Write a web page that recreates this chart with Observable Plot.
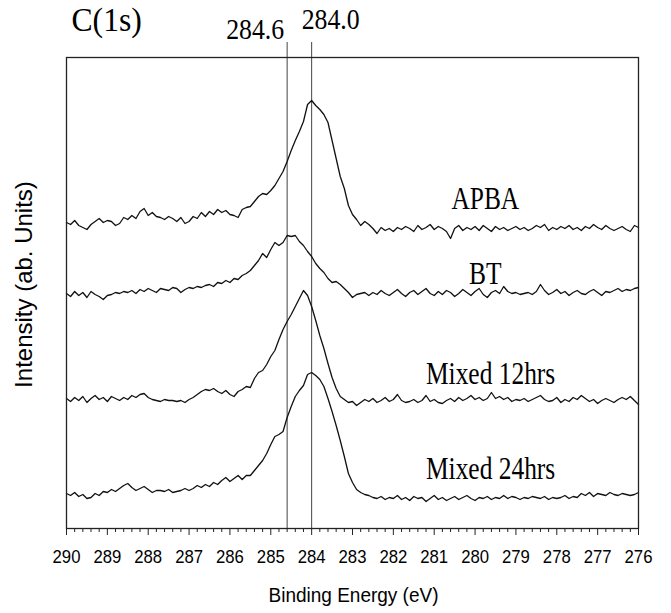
<!DOCTYPE html>
<html>
<head>
<meta charset="utf-8">
<script src="https://cdn.jsdelivr.net/npm/d3@7"></script>
<script src="https://cdn.jsdelivr.net/npm/@observablehq/plot@0.6"></script>
<style>
  html, body { margin: 0; padding: 0; background: #fff; }
  #chart svg { display: block; background: #fff; color: #000; }
</style>
</head>
<body>
<div id="chart"></div>
<script>
// Binding-energy grid (eV), 290 → 276 in 0.1 eV steps
const energyStart = 290;
const energyStep = 0.1;

// Intensities (arbitrary units)
const apba = [
  306,304,308,303,301,299,304,307,310,306,
  308,307,303,305,311,309,313,310,317,320,
  313,316,312,311,309,312,310,307,311,305,
  307,312,310,316,312,317,314,319,316,318,
  314,313,311,319,321,322,327,332,335,334,
  338,343,350,357,367,378,388,397,407,424,
  428,423,419,414,406,388,370,352,340,323,
  314,309,303,307,304,300,295,301,298,300,
  297,301,299,302,300,297,303,299,301,304,
  299,302,300,297,290,300,303,298,301,299,
  302,298,303,300,297,302,299,301,298,300,
  302,299,301,298,300,303,301,304,298,301,
  299,302,300,303,299,301,298,302,300,304,
  301,299,303,300,298,300,302,299,297,303,
  301
];
const bt = [
  235,232,237,233,236,231,237,234,232,229,
  233,234,236,235,237,236,238,235,239,237,
  240,238,236,240,239,238,241,240,236,239,
  241,240,242,241,243,244,242,246,245,248,
  246,250,249,253,255,258,263,268,275,271,
  279,286,283,286,293,292,293,287,283,277,
  272,265,260,256,250,246,247,244,240,236,
  231,234,235,236,233,236,234,238,235,233,
  236,239,235,232,236,238,234,237,240,235,
  233,237,234,238,236,232,235,239,236,233,
  237,240,234,231,236,238,235,242,237,235,
  236,234,235,236,234,237,244,238,234,236,
  239,235,237,233,236,238,235,234,237,239,
  236,233,237,236,238,240,237,239,238,240,
  241
];
const mixed12 = [
  130,127,131,128,132,126,130,133,129,131,
  127,132,130,128,131,129,133,131,134,135,
  131,129,128,127,129,128,128,127,128,126,
  129,131,134,137,139,138,140,137,135,138,
  134,132,137,139,142,141,150,156,158,164,
  172,178,189,199,207,214,222,230,238,233,
  222,208,193,180,165,151,140,132,129,126,
  127,123,126,129,127,130,126,128,131,127,
  129,134,128,126,127,129,126,128,133,127,
  129,126,125,128,130,127,131,128,130,133,
  129,131,128,130,136,130,132,129,131,127,
  129,128,130,127,129,131,133,129,127,128,
  131,126,129,127,131,129,133,130,127,129,
  125,128,130,128,126,129,131,129,132,128,
  124
];
const mixed24 = [
  35,33,36,32,34,30,31,35,33,37,
  36,39,37,40,43,45,41,38,40,42,
  39,36,38,38,37,39,36,37,38,40,
  38,40,43,41,44,42,46,44,48,51,
  47,50,53,49,53,53,58,63,68,75,
  84,92,94,97,111,122,132,138,143,154,
  156,153,149,142,130,117,103,88,72,55,
  46,39,36,34,33,31,30,32,29,31,
  30,33,29,31,28,32,30,31,27,30,
  33,29,31,28,30,32,29,31,33,30,
  28,31,30,32,29,31,30,33,30,32,
  31,29,31,30,32,31,30,32,29,31,
  30,31,33,30,32,31,35,33,36,32,
  35,34,33,36,34,33,35,34,33,34,
  36
];

const seriesNames = ["APBA", "BT", "Mixed 12hrs", "Mixed 24hrs"];
const labelEnergy = [279.75, 279.75, 279.62, 279.62];
const labelIntensity = [329, 254, 154, 59];

// Reference lines
const refEnergies = [284.6, 284.0];
const refLabels = ["284.6", "284.0"];
const refLabelIntensity = [499, 509];
const refTop = 486;

// Axis ticks
const xTicks = [290, 289, 288, 287, 286, 285, 284, 283, 282, 281, 280, 279, 278, 277, 276];
const xMinorTicks = d3.range(276, 290, 0.2).map(v => +v.toFixed(1)).filter(v => !Number.isInteger(v));

const titleText = "C(1s)";
const xLabel = "Binding Energy (eV)";
const yLabel = "Intensity (ab. Units)";

// Build tables
const energies = apba.map((_, i) => +(energyStart - i * energyStep).toFixed(1));
const rows = [];
[apba, bt, mixed12, mixed24].forEach((arr, k) =>
  arr.forEach((v, i) => rows.push({energy: energies[i], intensity: v, series: seriesNames[k]}))
);
const labels = seriesNames.map((s, i) => ({text: s, energy: labelEnergy[i], intensity: labelIntensity[i]}));
const refs = refEnergies.map((e, i) => ({energy: e, text: refLabels[i], ly: refLabelIntensity[i]}));

const serif = "Liberation Serif, 'Times New Roman', Times, serif";
const sans = "Liberation Sans, Arial, Helvetica, sans-serif";

const svg = Plot.plot({
  width: 671,
  height: 613,
  marginLeft: 66,
  marginRight: 33,
  marginTop: 57,
  marginBottom: 85,
  style: {background: "#fff", color: "#000"},
  x: {domain: [290, 276], axis: null},
  y: {domain: [0, 471], axis: null},
  marks: [
    Plot.ruleX(refs, {x: "energy", y1: 0, y2: refTop, stroke: "#444", strokeWidth: 1}),
    Plot.line(rows, {x: "energy", y: "intensity", z: "series", stroke: "#111", strokeWidth: 1.3}),
    Plot.frame({stroke: "#222", strokeWidth: 1.3}),
    Plot.axisX({ticks: xMinorTicks, tickSize: 4, text: null, label: null, anchor: "bottom", stroke: "#222"}),
    Plot.axisX({ticks: xTicks, tickSize: 7, tickPadding: 14, tickFormat: d => String(d),
      fontSize: 19, fontFamily: sans, label: null, anchor: "bottom", stroke: "#222"}),
    Plot.text(labels, {x: "energy", y: "intensity", text: "text", fontFamily: serif, fontSize: 31,
      textAnchor: "middle", lineAnchor: "middle", fill: "#000"}),
    Plot.text(refs.slice(0, 1), {x: "energy", y: "ly", text: "text", fontFamily: serif, fontSize: 30,
      textAnchor: "end", lineAnchor: "middle", dx: -3, fill: "#000"}),
    Plot.text(refs.slice(1), {x: "energy", y: "ly", text: "text", fontFamily: serif, fontSize: 30,
      textAnchor: "start", lineAnchor: "middle", dx: -10, fill: "#000"}),
    Plot.text([titleText], {frameAnchor: "top-left", text: d => d, fontFamily: serif, fontSize: 34,
      textAnchor: "start", lineAnchor: "middle", dx: 5, dy: -37, fill: "#000"}),
    Plot.text([xLabel], {frameAnchor: "bottom", text: d => d, fontFamily: sans, fontSize: 20,
      textAnchor: "middle", lineAnchor: "middle", dx: 1, dy: 67, fill: "#000"}),
    Plot.text([yLabel], {frameAnchor: "left", text: d => d, fontFamily: sans, fontSize: 24,
      textAnchor: "middle", lineAnchor: "middle", rotate: -90, dx: -42, dy: -8.5, fill: "#000"})
  ]
});

document.getElementById("chart").append(svg);

// Condense glyphs horizontally like the reference image
function squeeze(selector, f) {
  svg.querySelectorAll(selector).forEach(t => {
    const L = t.getComputedTextLength();
    if (L > 0) {
      t.setAttribute("textLength", (L * f).toFixed(1));
      t.setAttribute("lengthAdjust", "spacingAndGlyphs");
    }
  });
}
squeeze('g[aria-label="x-axis tick label"] text', 0.88);
squeeze('g[font-size="31"] text', 0.82);
squeeze('g[font-size="30"] text', 0.86);
squeeze('g[font-size="34"] text', 0.93);
squeeze('g[font-size="20"] text', 0.95);
</script>
</body>
</html>
